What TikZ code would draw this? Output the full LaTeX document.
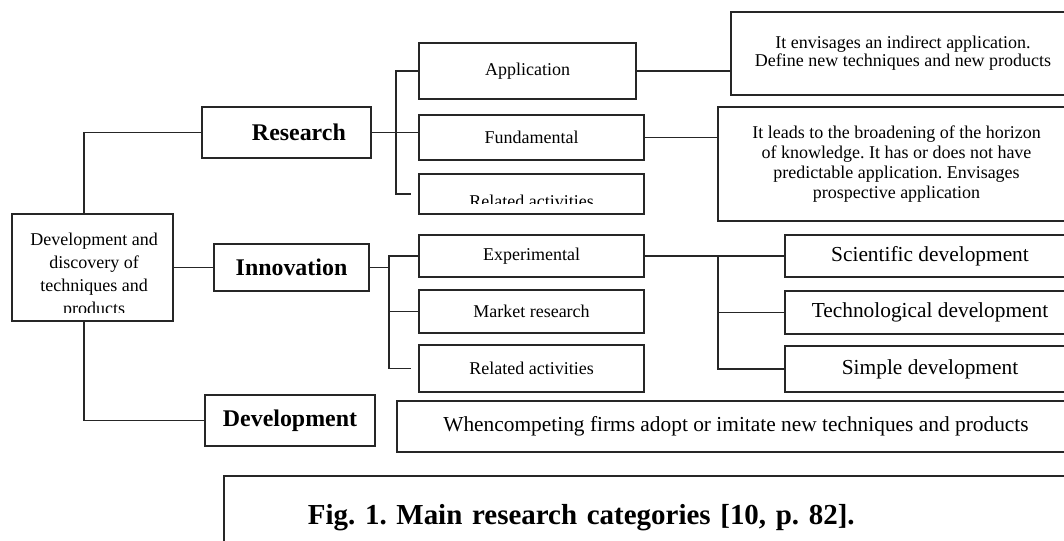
\documentclass[tikz,border=0pt]{standalone}
\usepackage{fontspec}
\setmainfont{Liberation Serif}
\frenchspacing

\begin{document}
\begin{tikzpicture}[x=0.025cm,y=-0.025cm,
  box/.style={draw=black!85, line width=1.2pt, inner sep=0pt},
  head/.style={box, font=\fontsize{17}{20}\selectfont\bfseries},
  small/.style={box, font=\fontsize{12.8}{14}\selectfont},
  mid/.style={box, font=\fontsize{15.2}{18}\selectfont},
  link/.style={draw=black!85, line width=1.3pt}]
\useasboundingbox (0,0) rectangle (1064,540);
\clip (0,0) rectangle (1064,540);

% left column
\node[box, minimum width=4.025cm, minimum height=2.675cm,
  path picture={\clip ([yshift=0.22cm]path picture bounding box.south west) rectangle (path picture bounding box.north east);
    \node[align=center, inner sep=0pt, anchor=north, font=\fontsize{12.8}{16.4}\selectfont] (maintext)
      at ([xshift=0.04cm,yshift=-0.19cm]path picture bounding box.north) {Development and\\ discovery of\\ techniques and\\ products};}] (main) at (92.5,267.5) {};
\node[head, minimum width=4.225cm, minimum height=1.275cm] (res) at (286.5,132.5) {\hspace*{0.62cm}Research};
\node[head, minimum width=3.875cm, minimum height=1.175cm] (innov) at (291.5,267.5) {Innovation};
\node[head, minimum width=4.25cm, minimum height=1.275cm] (dev) at (290,420.5) {Development};

% middle column
\node[small, minimum width=5.425cm, minimum height=1.4cm] (app) at (527.5,71) {Application};
\node[small, minimum width=5.625cm, minimum height=1.125cm] (fund) at (531.5,137.5) {Fundamental};
\node[box, minimum width=5.625cm, minimum height=1cm,
  path picture={\clip ([yshift=0.27cm]path picture bounding box.south west) rectangle (path picture bounding box.north east);
    \node[inner sep=0pt, anchor=base, font=\fontsize{12.8}{14}\selectfont] (rel1text)
      at ([yshift=0.17cm]path picture bounding box.south) {Related activities};}] (rel1) at (531.5,194) {};
\node[small, minimum width=5.625cm, minimum height=1.05cm] (exp) at (531.5,256) {Experimental};
\node[small, minimum width=5.625cm, minimum height=1.075cm] (mkt) at (531.5,311.5) {Market research};
\node[small, minimum width=5.625cm, minimum height=1.175cm] (rel2) at (531.5,368.5) {Related activities};

% right column
\node[small, align=center, font=\fontsize{12.8}{13}\selectfont, minimum width=8.6cm, minimum height=2.075cm] (note1) at (903,53.5)
  {It envisages an indirect application.\\ Define new techniques and new products};
\node[small, align=center, font=\fontsize{12.8}{14.4}\selectfont, minimum width=8.925cm, minimum height=2.85cm] (note2) at (896.5,164)
  {It leads to the broadening of the horizon\\ of knowledge. It has or does not have\\ predictable application. Envisages\\ prospective application};
\node[mid, minimum width=7.25cm, minimum height=1.05cm] (sci) at (930,256) {Scientific development};
\node[mid, minimum width=7.25cm, minimum height=1.075cm] (tech) at (930,312.5) {Technological development};
\node[mid, minimum width=7.25cm, minimum height=1.15cm] (simp) at (930,369) {Simple development};
\node[mid, minimum width=16.95cm, minimum height=1.275cm] (firms) at (736,426.5) {Whencompeting firms adopt or imitate new techniques and products};

% caption
\node[box, minimum width=21.4cm, minimum height=2.1cm, text width=17.2cm, align=left,
  font=\fontsize{20.6}{24}\selectfont\bfseries] (caption) at (652,518) {Fig. 1. Main research categories [10, p. 82].};

% connectors
\coordinate (rj) at (396,0);
\coordinate (ij) at (389,0);
\coordinate (ej) at (718,0);
\draw[link] ([xshift=-0.21cm]main.north) |- (res.west);
\draw[link] (main) -- (innov);
\draw[link] ([xshift=-0.21cm]main.south) |- (dev.west);

\draw[link] (res.east) -- (res.east -| fund.west);
\draw[link] (app.west) -| (rj |- rel1.west) -- ([xshift=-0.175cm]rel1.west);
\draw[link] (app.east) -- (app.east -| note1.west);
\draw[link] (fund.east) -- (fund.east -| note2.west);

\draw[link] (innov.east) -- (innov.east -| ij);
\draw[link] (exp.west) -| (ij |- rel2.west) -- ([xshift=-0.175cm]rel2.west);
\draw[link] (mkt.west) -- (mkt.west -| ij);

\draw[link] (exp.east) -- (exp.east -| ej);
\draw[link] (sci.west) -| (ej |- simp.west) -- (simp.west);
\draw[link] (tech.west) -- (tech.west -| ej);
\end{tikzpicture}
\end{document}
